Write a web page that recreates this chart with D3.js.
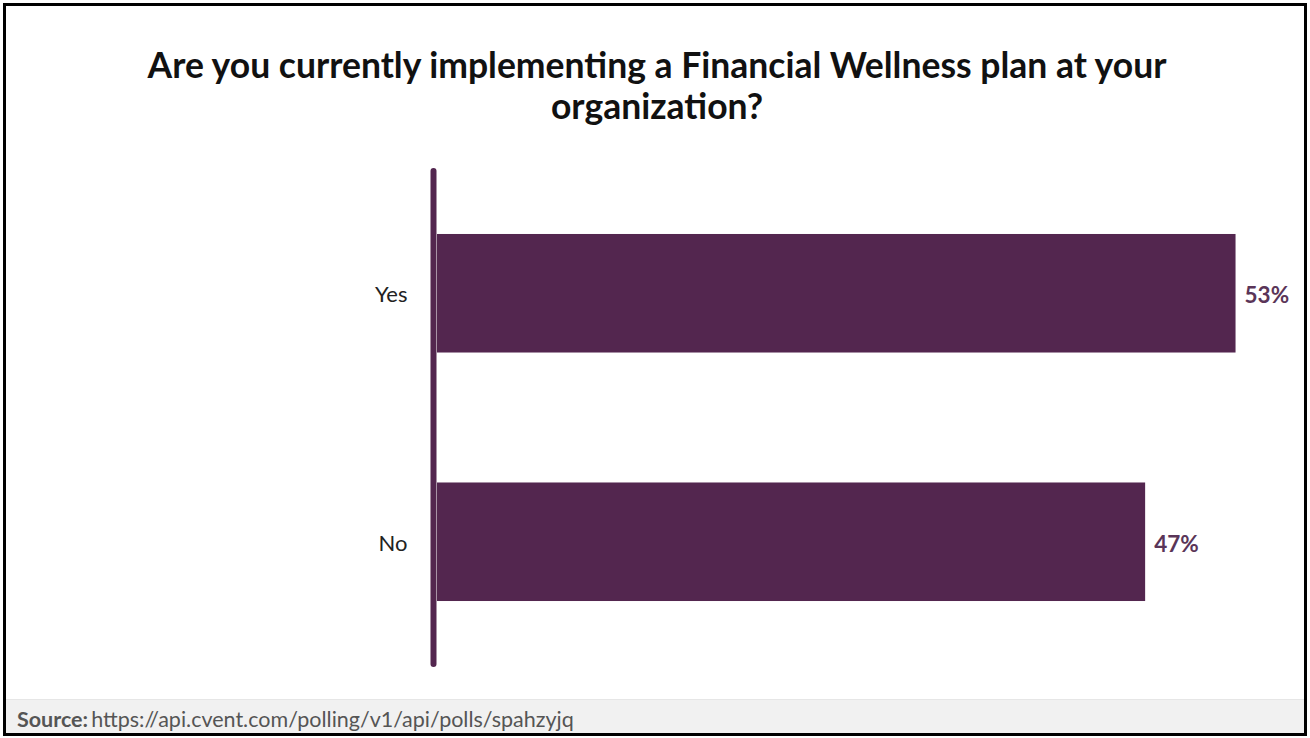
<!DOCTYPE html>
<html>
<head>
<meta charset="utf-8">
<script src="https://cdn.jsdelivr.net/npm/d3@7"></script>
<style>
  html, body { margin: 0; padding: 0; background: #fff; }
  svg { display: block; font-family: Lato, "Open Sans", sans-serif; }
</style>
</head>
<body>
<svg id="chart" width="1310" height="738"></svg>
<script>
// Poll answers and their shares (percent)
const categories = ["Yes", "No"];
const values = [53, 47];
const valueLabels = ["53%", "47%"];
const titleLines = [
  "Are you currently implementing a Financial Wellness plan at your",
  "organization?"
];
const sourceLabel = "Source:";
const sourceUrl = "https://api.cvent.com/polling/v1/api/polls/spahzyjq";

const W = 1310, H = 738;
const barColor = "#53264f";
const svg = d3.select("#chart");

// white canvas
svg.append("rect").attr("x", 0).attr("y", 0).attr("width", W).attr("height", H).attr("fill", "#fff");

// footer band
svg.append("rect")
  .attr("x", 5).attr("y", 699).attr("width", W - 10).attr("height", 35)
  .attr("fill", "#f1f1f1");
svg.append("line")
  .attr("x1", 5).attr("x2", W - 5).attr("y1", 699.5).attr("y2", 699.5)
  .attr("stroke", "#e6e6e6").attr("stroke-width", 1);

// title
svg.append("text")
  .attr("text-anchor", "middle")
  .attr("font-weight", 700)
  .attr("font-size", 35.5)
  .attr("fill", "#111")
  .selectAll("tspan")
  .data(titleLines)
  .join("tspan")
  .attr("x", 657)
  .attr("y", (d, i) => 78 + i * 41)
  .text(d => d);

// scales
const x = d3.scaleLinear().domain([0, 60]).range([437, 1341]);
const y = d3.scaleBand().domain(categories).range([169, 666])
  .paddingInner(0.523).paddingOuter(0.2615);

const data = categories.map((c, i) => ({ c, v: values[i], label: valueLabels[i] }));

// bars
svg.append("g").selectAll("rect")
  .data(data)
  .join("rect")
  .attr("x", x(0))
  .attr("y", d => y(d.c))
  .attr("width", d => x(d.v) - x(0))
  .attr("height", y.bandwidth())
  .attr("fill", barColor);

// value labels
svg.append("g").selectAll("text")
  .data(data)
  .join("text")
  .attr("x", d => x(d.v) + 9)
  .attr("y", d => y(d.c) + y.bandwidth() / 2 + 2)
  .attr("dy", "0.35em")
  .attr("font-size", 22.5)
  .attr("font-weight", 700)
  .attr("fill", "#5a3558")
  .text(d => d.label);

// category axis
const axis = d3.axisLeft(y).tickSize(0).tickPadding(26);
const gAxis = svg.append("g").attr("transform", "translate(433.5,2)").call(axis);
gAxis.select(".domain").remove();
gAxis.selectAll("text")
  .attr("font-family", "Lato, sans-serif")
  .attr("font-size", 22)
  .attr("fill", "#222");
svg.append("line")
  .attr("x1", 433.5).attr("x2", 433.5)
  .attr("y1", y.range()[0] + 2).attr("y2", y.range()[1] - 2)
  .attr("stroke", barColor).attr("stroke-width", 6).attr("stroke-linecap", "round");

// source footer
const src = svg.append("text").attr("x", 17).attr("y", 727).attr("font-size", 21.5).attr("fill", "#555");
src.append("tspan").attr("font-weight", 700).text(sourceLabel);
src.append("tspan").attr("dx", 3).text(sourceUrl);

// outer frame
svg.append("rect")
  .attr("x", 4.5).attr("y", 4.5).attr("width", W - 9).attr("height", H - 8)
  .attr("fill", "none").attr("stroke", "#000").attr("stroke-width", 3);
</script>
</body>
</html>
